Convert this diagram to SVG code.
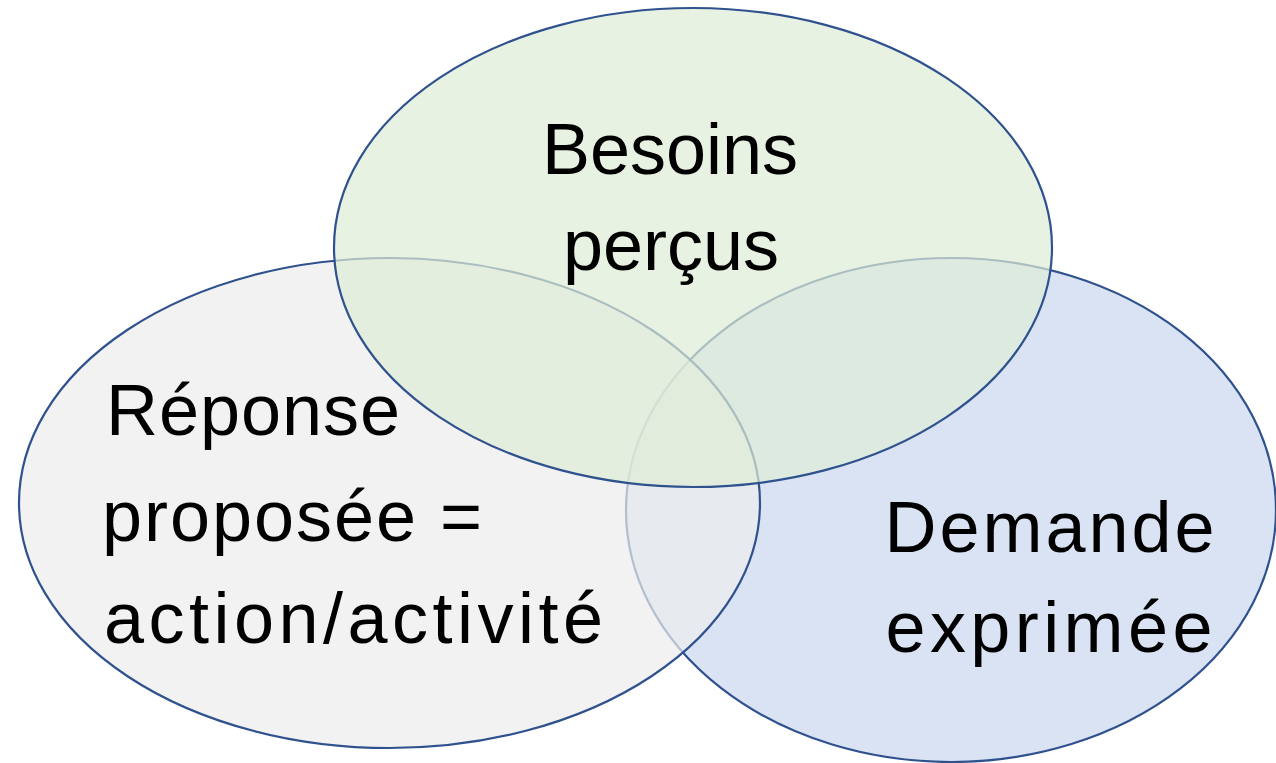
<svg xmlns="http://www.w3.org/2000/svg" width="1276" height="763" viewBox="0 0 1276 763">
<style>
.e{stroke:#2F528F;stroke-width:2.2;fill-opacity:0.7}
.t{font-family:"Liberation Sans",Arial,sans-serif;font-size:72px;fill:#000}
</style>
<rect width="1276" height="763" fill="#FFFFFF"/>
<g id="demande">
<ellipse class="e" cx="951" cy="510" rx="325" ry="252" fill="#CAD7EE"/>
</g>
<g id="reponse">
<ellipse class="e" cx="389.5" cy="503" rx="370.5" ry="245" fill="#ECECEC"/>
</g>
<g id="besoins">
<ellipse class="e" cx="693" cy="247.5" rx="359" ry="239.5" fill="#DEECD6"/>
</g>
<g id="labels">
<text class="t" x="670" y="174" text-anchor="middle">Besoins</text>
<text class="t" x="671" y="270" text-anchor="middle">perçus</text>
<text class="t" x="106" y="435" textLength="294" lengthAdjust="spacing">Réponse</text>
<text class="t" x="102" y="541" textLength="380" lengthAdjust="spacing">proposée =</text>
<text class="t" x="104" y="643" textLength="499" lengthAdjust="spacing">action/activité</text>
<text class="t" x="1049.5" y="552" text-anchor="middle" textLength="330" lengthAdjust="spacing">Demande</text>
<text class="t" x="1049" y="652" text-anchor="middle" textLength="327" lengthAdjust="spacing">exprimée</text>
</g>
<g id="connectors"/>
</svg>
